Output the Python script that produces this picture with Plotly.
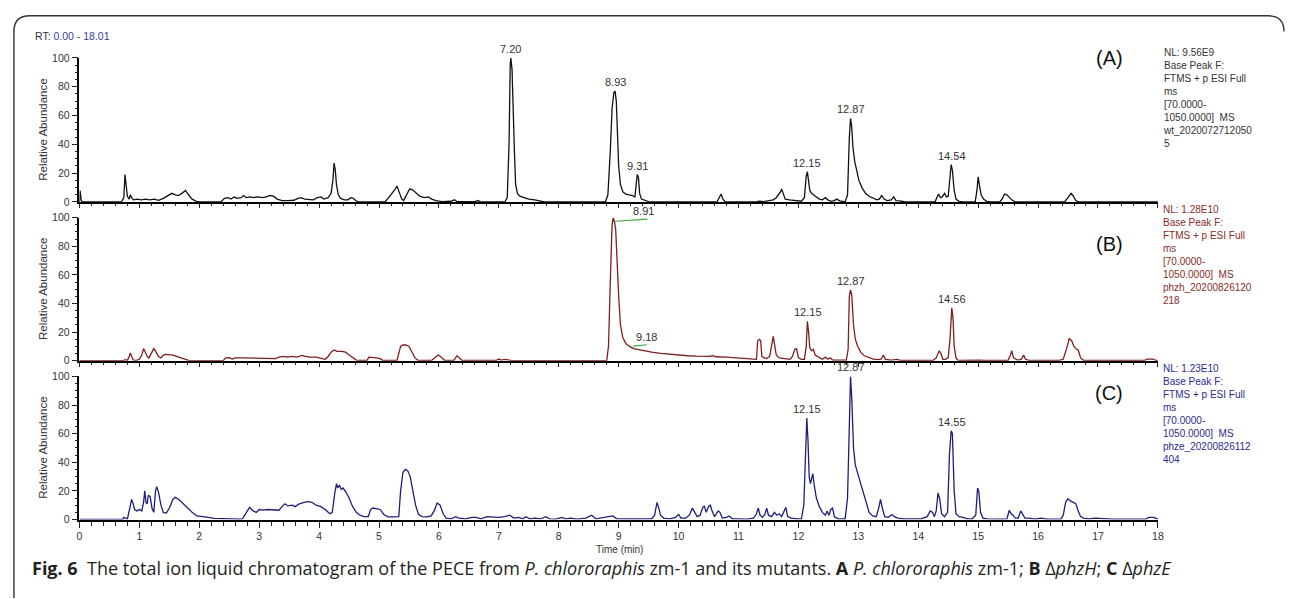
import plotly.graph_objects as go

# ---------------- data ----------------
trace_a = [
    (0.00, 0), (0.01, 8), (0.03, 1), (0.05, 0),
    (0.70, 0), (0.74, 3), (0.76, 19), (0.78, 9), (0.80, 4), (0.83, 2), (0.85, 5), (0.87, 3), (0.90, 1.5),
    (0.97, 2), (1.03, 1.5), (1.10, 2), (1.17, 1.5), (1.25, 2), (1.32, 1.2), (1.40, 2.5), (1.48, 4.5),
    (1.54, 6), (1.60, 5), (1.65, 4.5), (1.71, 6), (1.77, 8), (1.82, 5), (1.88, 2), (1.95, 0.5), (2.00, 0),
    (2.36, 0), (2.42, 2.5), (2.48, 3), (2.53, 2), (2.58, 3.5), (2.63, 2.5), (2.70, 3), (2.74, 4.5),
    (2.78, 3), (2.84, 3.5), (2.90, 3), (2.97, 3.5), (3.05, 3), (3.12, 3.5), (3.18, 4.5), (3.24, 4),
    (3.30, 2), (3.38, 1), (3.48, 1), (3.58, 1.2), (3.65, 2.5), (3.70, 3), (3.76, 2), (3.83, 1.5),
    (3.90, 1.5), (3.97, 3), (4.03, 3.5), (4.08, 2), (4.15, 3), (4.20, 6), (4.23, 15), (4.25, 27),
    (4.27, 22), (4.29, 12), (4.32, 5), (4.36, 2.5), (4.42, 1.5), (4.48, 1.5), (4.53, 3), (4.57, 2.5),
    (4.61, 1), (4.66, 0),
    (5.10, 0), (5.16, 3), (5.22, 6), (5.27, 9), (5.30, 11), (5.34, 7), (5.38, 2), (5.41, 1), (5.46, 5),
    (5.51, 9), (5.56, 8.5), (5.62, 6), (5.68, 4), (5.75, 3), (5.82, 3.5), (5.88, 2), (5.95, 1),
    (6.05, 0.3), (6.20, 0.5), (6.26, 1.5), (6.30, 0.3), (6.60, 0.3), (6.65, 1), (6.70, 0),
    (7.10, 0), (7.14, 3), (7.17, 40), (7.19, 95), (7.20, 100), (7.22, 92), (7.24, 70), (7.26, 35),
    (7.28, 12), (7.31, 6), (7.35, 4), (7.42, 3), (7.50, 2), (7.60, 1.5), (7.70, 0.5), (7.76, 0),
    (8.78, 0), (8.82, 5), (8.86, 35), (8.89, 65), (8.92, 76), (8.94, 77), (8.96, 70), (8.98, 45),
    (9.00, 25), (9.03, 12), (9.07, 7), (9.12, 5.5), (9.18, 5), (9.23, 4.5), (9.27, 3.5), (9.29, 10),
    (9.31, 19), (9.33, 17), (9.35, 6), (9.38, 2), (9.45, 1), (9.52, 0),
    (10.64, 0), (10.68, 3), (10.71, 5.5), (10.74, 2), (10.78, 0),
    (11.30, 0), (11.35, 0.6), (11.42, 0.3), (11.50, 0.8), (11.58, 1.5), (11.63, 3), (11.67, 5),
    (11.70, 7), (11.72, 9), (11.75, 5), (11.78, 2), (11.85, 1.5), (11.92, 1), (11.98, 0.8),
    (12.05, 0.5), (12.10, 3), (12.13, 18), (12.15, 21), (12.17, 15), (12.19, 8), (12.22, 6),
    (12.26, 4.5), (12.30, 3.5), (12.35, 2), (12.40, 1.5), (12.45, 3), (12.49, 1.5), (12.55, 0.5),
    (12.60, 1), (12.64, 2), (12.69, 0.8), (12.78, 0), (12.82, 5), (12.85, 45), (12.87, 58),
    (12.89, 52), (12.91, 38), (12.94, 28), (12.97, 22), (13.01, 15), (13.06, 10), (13.12, 6),
    (13.18, 4), (13.25, 2.5), (13.31, 1.5), (13.35, 2), (13.39, 4.5), (13.43, 2), (13.48, 1),
    (13.55, 1.5), (13.59, 3.5), (13.63, 1), (13.70, 0.8), (13.78, 0),
    (14.28, 0), (14.31, 3), (14.34, 5.5), (14.37, 3), (14.40, 3.5), (14.44, 6), (14.47, 3.5),
    (14.50, 4), (14.53, 18), (14.55, 26), (14.57, 22), (14.60, 8), (14.63, 2), (14.68, 0.5), (14.75, 0),
    (14.95, 0), (14.98, 8), (15.00, 17.5), (15.02, 12), (15.05, 5), (15.09, 2), (15.14, 0.5), (15.20, 0),
    (15.36, 0), (15.40, 2), (15.44, 5.5), (15.48, 5), (15.52, 3), (15.56, 1.5), (15.62, 0),
    (16.44, 0), (16.50, 3), (16.55, 6), (16.59, 4), (16.63, 1), (16.68, 0),
    (18.00, 0),
]

trace_b = [
    (0.00, 0), (0.73, 0), (0.76, 0.8), (0.80, 0.3), (0.83, 3), (0.85, 5.5), (0.87, 3), (0.90, 0.5),
    (0.95, 0.3), (1.00, 1), (1.04, 4), (1.07, 8.5), (1.10, 6), (1.13, 3), (1.16, 2), (1.20, 5),
    (1.24, 8.5), (1.28, 6), (1.32, 3), (1.36, 2), (1.40, 4), (1.44, 4.5), (1.50, 4.5), (1.56, 4),
    (1.62, 3), (1.70, 2), (1.76, 1), (1.82, 0.3), (1.90, 0),
    (2.40, 0), (2.44, 2), (2.50, 2.2), (2.55, 1.2), (2.60, 2), (2.70, 2), (2.85, 2), (3.00, 2),
    (3.15, 2), (3.22, 2), (3.27, 1.5), (3.33, 2.5), (3.40, 3), (3.47, 2.5), (3.55, 3), (3.62, 2.5),
    (3.68, 3.5), (3.72, 3.8), (3.77, 3), (3.85, 2.5), (3.95, 2.5), (4.05, 1.5), (4.10, 1), (4.15, 3),
    (4.20, 6), (4.25, 7.5), (4.30, 6.5), (4.38, 6.5), (4.44, 6), (4.50, 4), (4.56, 2), (4.62, 0.5),
    (4.68, 0.3), (4.80, 0.3), (4.83, 2.5), (4.88, 2.5), (4.95, 2), (5.02, 1.5), (5.06, 0.3),
    (5.30, 0.3), (5.33, 5), (5.36, 10), (5.40, 11), (5.45, 11), (5.50, 10), (5.55, 6), (5.60, 2),
    (5.65, 0.3), (5.88, 0.3), (5.94, 2.5), (5.99, 4), (6.04, 2.5), (6.09, 0.3), (6.25, 0.3),
    (6.30, 3.5), (6.34, 2), (6.38, 0.3), (6.96, 0.3), (7.00, 1.2), (7.04, 0.5), (7.10, 1),
    (7.18, 0.5), (7.22, 0),
    (8.80, 0), (8.83, 10), (8.86, 55), (8.89, 95), (8.91, 100), (8.93, 97), (8.95, 92), (8.97, 72),
    (9.00, 45), (9.03, 25), (9.07, 16), (9.12, 12), (9.18, 10), (9.25, 8.5), (9.35, 7.5), (9.45, 6.5),
    (9.55, 6), (9.70, 5.2), (9.85, 4.5), (10.00, 4), (10.15, 3.5), (10.30, 3.2), (10.50, 3),
    (10.58, 3.5), (10.62, 2.8), (10.80, 2.5), (10.95, 2), (11.05, 1.5), (11.15, 1.2), (11.25, 1),
    (11.30, 1), (11.32, 14), (11.35, 15), (11.37, 14), (11.39, 3), (11.43, 2), (11.47, 1.5),
    (11.52, 3), (11.56, 11), (11.58, 17), (11.60, 12), (11.63, 4), (11.68, 2), (11.74, 1.5),
    (11.80, 1), (11.86, 1), (11.90, 3), (11.94, 8), (11.97, 8.5), (12.00, 2), (12.05, 1), (12.10, 1),
    (12.13, 10), (12.15, 27.5), (12.17, 20), (12.19, 9), (12.22, 7), (12.25, 8), (12.28, 4),
    (12.33, 2.5), (12.40, 1), (12.45, 2.5), (12.49, 1), (12.53, 2), (12.57, 0.5), (12.70, 0.5),
    (12.80, 0.5), (12.83, 8), (12.85, 45), (12.87, 49.5), (12.89, 46), (12.92, 25), (12.95, 15),
    (12.99, 10), (13.04, 6), (13.10, 3.5), (13.18, 2), (13.25, 1.2), (13.32, 0.8), (13.38, 1.2),
    (13.42, 4), (13.45, 1), (13.55, 0.5), (13.65, 1), (13.70, 0.3),
    (14.25, 0.3), (14.30, 2), (14.35, 7), (14.38, 5), (14.41, 1), (14.45, 1), (14.50, 2),
    (14.53, 15), (14.56, 37), (14.58, 30), (14.60, 10), (14.63, 2), (14.66, 0.5), (14.72, 0.3),
    (14.97, 0.8), (15.02, 0.5), (15.10, 0.3),
    (15.50, 0.3), (15.54, 4), (15.56, 7), (15.59, 2), (15.62, 1.5), (15.66, 0.5), (15.72, 1),
    (15.76, 4), (15.79, 1), (15.85, 0.3),
    (16.35, 0.3), (16.42, 1), (16.48, 9), (16.52, 15.5), (16.56, 14), (16.60, 10), (16.64, 8),
    (16.67, 7.5), (16.71, 2), (16.76, 0.3), (17.78, 0.3), (17.82, 1.2), (17.92, 1.2), (17.96, 0.3),
    (18.00, 0.3),
]

trace_c = [
    (0.00, 0), (0.72, 0), (0.74, 1.5), (0.77, 1), (0.80, 0.5), (0.84, 8), (0.87, 14), (0.89, 12),
    (0.92, 7), (0.96, 6), (1.00, 7), (1.04, 6), (1.07, 12), (1.09, 20), (1.11, 12), (1.13, 11),
    (1.15, 17), (1.18, 16), (1.21, 8), (1.24, 5), (1.27, 20), (1.29, 23), (1.32, 19), (1.36, 10),
    (1.40, 5), (1.45, 4.5), (1.50, 8), (1.56, 14), (1.60, 15.5), (1.66, 14), (1.73, 11), (1.80, 8),
    (1.88, 5), (1.96, 2.5), (2.05, 1.8), (2.15, 1.5), (2.25, 0.8), (2.40, 0.5), (2.55, 0.5),
    (2.68, 0.3), (2.72, 0.5), (2.78, 5), (2.84, 8.5), (2.90, 6), (2.95, 5), (3.00, 7), (3.07, 6.5),
    (3.15, 7), (3.25, 6.5), (3.33, 6.5), (3.38, 9), (3.43, 11), (3.48, 9.5), (3.55, 10), (3.60, 9),
    (3.67, 11), (3.75, 12), (3.82, 12.5), (3.88, 12), (3.95, 10), (4.03, 9), (4.10, 7), (4.18, 4),
    (4.22, 5), (4.26, 18), (4.29, 25), (4.31, 22), (4.34, 24), (4.37, 21), (4.40, 22), (4.45, 19),
    (4.50, 15), (4.56, 9), (4.62, 5), (4.68, 3), (4.75, 2), (4.82, 2), (4.86, 7), (4.90, 8),
    (4.96, 7.5), (5.02, 7), (5.08, 3.5), (5.15, 1.8), (5.25, 1.8), (5.33, 2), (5.36, 20), (5.40, 33),
    (5.44, 35), (5.48, 34), (5.52, 30), (5.56, 22), (5.61, 10), (5.66, 3.5), (5.72, 2), (5.80, 1.8),
    (5.87, 2.5), (5.92, 6), (5.97, 11.5), (6.02, 10), (6.07, 4), (6.12, 1), (6.20, 0.5), (6.28, 2),
    (6.33, 1), (6.45, 0.5), (6.55, 1.5), (6.62, 1.5), (6.70, 0.5), (6.80, 2), (6.90, 1.5), (7.00, 1.5),
    (7.10, 2), (7.18, 3), (7.25, 1), (7.33, 1.5), (7.40, 0.5), (7.45, 2), (7.52, 0.5), (7.60, 1),
    (7.70, 0.5), (7.78, 2), (7.85, 0.5), (7.95, 0.3), (8.05, 1.5), (8.12, 0.5), (8.20, 1), (8.30, 0.3),
    (8.45, 1), (8.55, 3), (8.62, 0.5), (8.75, 1.5), (8.90, 2.5), (8.97, 0.5), (9.10, 0.5), (9.25, 0.3),
    (9.40, 0.5), (9.55, 0.5), (9.60, 3), (9.64, 12), (9.67, 8), (9.70, 3), (9.75, 1), (9.85, 0.5),
    (9.95, 1.5), (10.00, 3.5), (10.04, 1), (10.12, 1), (10.18, 3), (10.23, 8), (10.27, 5), (10.31, 2),
    (10.36, 3), (10.40, 8), (10.43, 9.5), (10.46, 5), (10.50, 9), (10.53, 10), (10.56, 6), (10.60, 2),
    (10.66, 6), (10.69, 5), (10.73, 1), (10.80, 1.5), (10.84, 2.5), (10.90, 0.5), (11.00, 0.5),
    (11.15, 0.3), (11.25, 1), (11.30, 4), (11.33, 8), (11.36, 3), (11.40, 1.5), (11.44, 3.5),
    (11.47, 8), (11.50, 3), (11.55, 2), (11.60, 5), (11.64, 3), (11.68, 4), (11.72, 2), (11.76, 6),
    (11.79, 8.5), (11.82, 2), (11.88, 1), (11.98, 0.5), (12.05, 0.5), (12.09, 10), (12.12, 55),
    (12.14, 71), (12.16, 55), (12.18, 30), (12.20, 25), (12.22, 30), (12.24, 32), (12.26, 25),
    (12.30, 15), (12.35, 9), (12.40, 5), (12.45, 3), (12.48, 6), (12.51, 3), (12.54, 7), (12.57, 8),
    (12.60, 2), (12.66, 0.5), (12.78, 0.5), (12.82, 15), (12.85, 60), (12.87, 100), (12.89, 85),
    (12.92, 50), (12.95, 38), (12.99, 32), (13.03, 27), (13.08, 20), (13.13, 12), (13.18, 5),
    (13.24, 2.5), (13.30, 2), (13.34, 8), (13.37, 14), (13.40, 8), (13.44, 2), (13.50, 1.5),
    (13.56, 3.5), (13.60, 2), (13.66, 1), (13.75, 0.5), (13.85, 0.5), (13.95, 1), (14.05, 0.5),
    (14.15, 2), (14.20, 6), (14.24, 5), (14.27, 2), (14.30, 6), (14.33, 18.5), (14.36, 14), (14.39, 4),
    (14.44, 2), (14.49, 5), (14.52, 45), (14.55, 62), (14.57, 60), (14.60, 20), (14.63, 4), (14.68, 2),
    (14.75, 1.5), (14.82, 0.5), (14.90, 0.5), (14.96, 3), (14.99, 22), (15.01, 20), (15.04, 5),
    (15.08, 1), (15.15, 0.5), (15.25, 0.3), (15.40, 0.3), (15.48, 0.5), (15.52, 6.5), (15.55, 4),
    (15.58, 3), (15.62, 1), (15.67, 1), (15.71, 6), (15.74, 4), (15.78, 1), (15.85, 1), (15.95, 0.3),
    (16.05, 1), (16.15, 0.3), (16.38, 0.3), (16.42, 3), (16.46, 12), (16.50, 14.5), (16.54, 13),
    (16.58, 12), (16.63, 11), (16.67, 6), (16.71, 2), (16.76, 1), (16.85, 0.5), (16.95, 1),
    (17.05, 0.8), (17.15, 0.8), (17.25, 0.3), (17.80, 0.3), (17.85, 1.5), (17.93, 1.5), (17.98, 0.3),
    (18.00, 0.3),
]

# peak labels: (retention time text, x position, peak height)
labels_a = [("7.20", 7.20, 100), ("8.93", 8.94, 77), ("9.31", 9.31, 19),
            ("12.15", 12.15, 21), ("12.87", 12.87, 58), ("14.54", 14.56, 26)]
labels_b = [("12.15", 12.16, 27.5), ("12.87", 12.87, 49.5), ("14.56", 14.57, 37)]
labels_c = [("12.15", 12.14, 71), ("12.87", 12.88, 100), ("14.55", 14.56, 62)]
# offset labels with green leader lines in panel B: (text, label x, label y, line x0, y0, x1, y1)
leader_b = [("8.91", 9.42, 99, 8.94, 97.5, 9.48, 99),
            ("9.18", 9.46, 11.2, 9.24, 10.2, 9.47, 11.2)]

info_a = ["NL: 9.56E9", "Base Peak F:", "FTMS + p ESI Full", "ms", "[70.0000-",
          "1050.0000]  MS", "wt_2020072712050", "5"]
info_b = ["NL: 1.28E10", "Base Peak F:", "FTMS + p ESI Full", "ms", "[70.0000-",
          "1050.0000]  MS", "phzh_20200826120", "218"]
info_c = ["NL: 1.23E10", "Base Peak F:", "FTMS + p ESI Full", "ms", "[70.0000-",
          "1050.0000]  MS", "phze_20200826112", "404"]
panel_names = ["(A)", "(B)", "(C)"]

# ---------------- layout helpers ----------------
W, H = 1290, 599
def px(x):
    return x / W
def py(y):
    return 1 - y / H

X0, X1 = 77, 1163
# (zero line px, 100 line px)
panels = [(200, 53), (362, 216), (524, 378)]
colors = ["#111111", "#7d1f1f", "#1e1e7a"]
text_colors = ["#333333", "#8a2b2b", "#2b2b8f"]
FONT = "Liberation Sans, Arial, sans-serif"

fig = go.Figure()
traces = [trace_a, trace_b, trace_c]
for i, tr in enumerate(traces):
    t, v = zip(*tr)
    sfx = "" if i == 0 else str(i + 1)
    fig.add_trace(go.Scatter(x=list(t), y=list(v), mode="lines",
                             line=dict(color=colors[i], width=1.3),
                             xaxis="x" + sfx, yaxis="y" + sfx,
                             showlegend=False, hoverinfo="skip"))

layout = dict(width=W, height=H, margin=dict(l=0, r=0, t=0, b=0),
              paper_bgcolor="white", plot_bgcolor="white", showlegend=False,
              font=dict(family=FONT, size=10, color="#333333"))

for i, (z, top) in enumerate(panels):
    sfx = "" if i == 0 else str(i + 1)
    last = i == 2
    layout["xaxis" + sfx] = dict(
        domain=[px(X0), px(X1)], range=[0, 18], anchor="y" + sfx,
        showline=True, linewidth=2, linecolor="#000000", mirror=False,
        ticks="outside", tick0=0, dtick=1, ticklen=6 if last else 4, tickwidth=1,
        tickcolor="#222222",
        minor=dict(ticks="outside", dtick=0.2, ticklen=4 if last else 2, tickcolor="#222222",
                   showgrid=False),
        showticklabels=last, tickfont=dict(size=10.5, color="#333333", family=FONT),
        showgrid=False, zeroline=False, fixedrange=True)
    layout["yaxis" + sfx] = dict(
        domain=[py(z), py(top)], range=[0, 100], anchor="x" + sfx,
        showline=True, linewidth=1.5, linecolor="#000000",
        ticks="outside", tick0=0, dtick=20, ticklen=6, tickwidth=1, tickcolor="#222222",
        minor=dict(ticks="outside", dtick=5, ticklen=3, tickcolor="#222222", showgrid=False),
        tickfont=dict(size=10.5, color="#333333", family=FONT),
        showgrid=False, zeroline=False, fixedrange=True)

fig.update_layout(**layout)

ann = []
shapes = []
# peak labels
for i, labs in enumerate([labels_a, labels_b, labels_c]):
    sfx = "" if i == 0 else str(i + 1)
    for txt, x, y in labs:
        ann.append(dict(text=txt, x=x, y=y, xref="x" + sfx, yref="y" + sfx,
                        showarrow=False, xanchor="center", yanchor="bottom", yshift=1,
                        font=dict(size=11, color="#333333", family=FONT)))
for txt, lx, ly, x0, y0, x1, y1 in leader_b:
    ann.append(dict(text=txt, x=lx, y=ly, xref="x2", yref="y2", showarrow=False,
                    xanchor="center", yanchor="bottom", yshift=0,
                    font=dict(size=11, color="#333333", family=FONT)))
    shapes.append(dict(type="line", xref="x2", yref="y2", x0=x0, y0=y0, x1=x1, y1=y1,
                       line=dict(color="#3aaa3a", width=1.2)))

# y-axis titles
for (z, top) in panels:
    ann.append(dict(text="Relative Abundance", x=px(40), y=py((z + top) / 2),
                    xref="paper", yref="paper", showarrow=False, textangle=-90,
                    xanchor="center", yanchor="middle",
                    font=dict(size=11.5, color="#333333", family=FONT)))

# right-hand info text and panel letters
nl_tops = [39.5, 200.5, 362.5]
letter_y = [53, 243, 395]
for i, info in enumerate([info_a, info_b, info_c]):
    ann.append(dict(text="<br>".join(info), x=px(1166), y=py(nl_tops[i]),
                    xref="paper", yref="paper", xanchor="left", yanchor="top",
                    align="left", showarrow=False,
                    font=dict(size=10, color=text_colors[i], family=FONT)))
    ann.append(dict(text=panel_names[i], x=px(1114), y=py(letter_y[i]), xref="paper",
                    yref="paper", showarrow=False, xanchor="center", yanchor="middle",
                    font=dict(size=20, color="#111111", family=FONT)))

# RT range
ann.append(dict(text="RT: <span style='color:#3b3b9e'>0.00 - 18.01</span>",
                x=px(30), y=py(31), xref="paper", yref="paper", xanchor="left",
                yanchor="middle", showarrow=False,
                font=dict(size=10.5, color="#333333", family=FONT)))
# x-axis title
ann.append(dict(text="Time (min)", x=px(621), y=py(555), xref="paper", yref="paper",
                xanchor="center", yanchor="middle",
                showarrow=False, font=dict(size=10, color="#333333", family=FONT)))
# caption
caption = ("<b>Fig. 6</b>  The total ion liquid chromatogram of the PECE from "
           "<i>P. chlororaphis</i> zm-1 and its mutants. <b>A</b> <i>P. chlororaphis</i> zm-1; "
           "<b>B</b> Δ<i>phzH</i>; <b>C</b> Δ<i>phzE</i>")
ann.append(dict(text=caption, x=px(27), y=py(573), xref="paper", yref="paper",
                xanchor="left", yanchor="middle", showarrow=False,
                font=dict(size=18, color="#231f20", family="Open Sans, sans-serif")))

# outer rounded frame
r = 16
shapes.append(dict(type="path", xref="paper", yref="paper",
                   path=(f"M {px(11)},{py(H + 5)} L {px(11)},{py(10 + r)} "
                         f"Q {px(11)},{py(10)} {px(11 + r)},{py(10)} "
                         f"L {px(1290 - r)},{py(10)} Q {px(1290)},{py(10)} {px(1290)},{py(10 + r)}"),
                   line=dict(color="#333333", width=1.4)))

fig.update_layout(annotations=ann, shapes=shapes)
fig.write_html("out.html")
